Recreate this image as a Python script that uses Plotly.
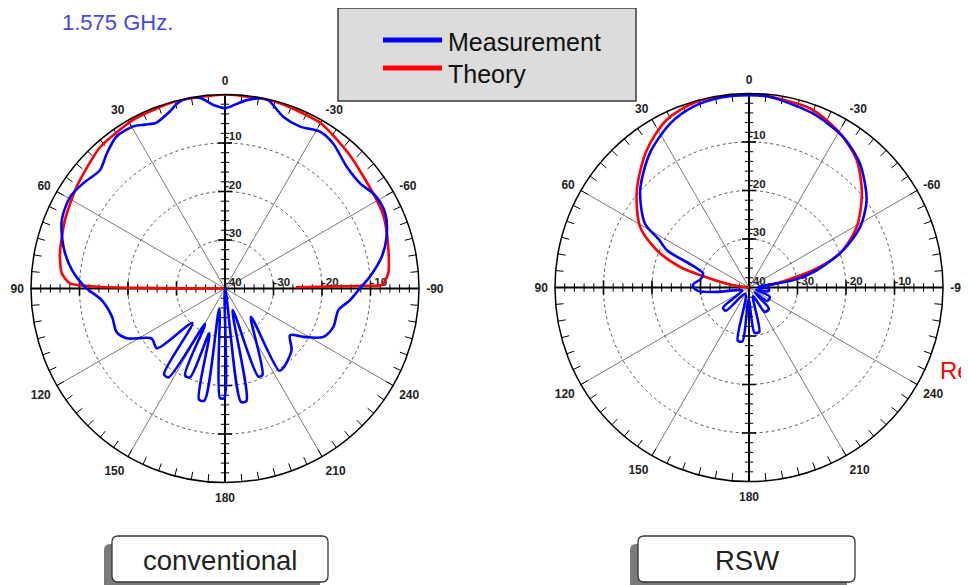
import plotly.graph_objects as go
import numpy as np

W, H = 969, 585
OFF = 8  # page margin of the browser body

# ---------------- data (dB vs angle, 0 deg at top, CCW positive) ----------------
conv_theory_theta = [-89.0, -88.9, -88.7, -84.7, -78.0, -70.1, -64.6, -57.3, -43.5, -30.0, -15.0,
                     0.0, 15.0, 28.0, 41.4, 55.5, 66.8, 78.0, 84.7, 88.1, 89.2, 89.6, 89.8, 89.9, 90.0]
conv_theory_r = [-25.4, -10.8, -7.6, -6.2, -5.5, -4.6, -4.0, -3.7, -2.4, -0.6, -0.1,
                 0.0, -0.1, -0.4, -1.1, -2.9, -4.1, -5.2, -6.2, -8.0, -14.0, -22.0, -30.0, -35.0, -40.0]

conv_meas_theta = [0, 3.6, 7.4, 11.3, 14.5, 17.4, 22.5, 26, 29.5, 35.5, 41.2, 46.5, 53.4, 59.4, 67.2,
                   75.5, 83.1, 89.3, 95.5, 104.2, 111.8, 116.9, 124.3, 131.3,
                   136.5, 144.6, 147.6, 150.7, 155.3, 158.5, 160.8, 166.8, 169.6, 164.2, 177.4, 179.6, 180,
                   188.0, 190.8, 199.5, 200.7, 203.5, 222.5, 213.4, 216.4,
                   227.2, 234.3, 238.3, 243.8, 250.5, 259.2, 264.7, 270, 274.7, 281.5, 287.8, 295.2, 301.9,
                   307.9, 315, 323.3, 328.8, 335.1, 341.3, 346.6, 348.6, 353.4, 358.4, 360]
conv_meas_r = [-2.8, -2.1, -0.4, 0.0, -0.6, -1.8, -3.0, -2.4, -1.6, -1.5, -3.0, -4.5, -3.6, -2.9, -3.5,
               -5.6, -8.2, -11.1, -14.5, -16.0, -15.9, -17.3, -21.7, -21.3,
               -30.2, -18.3, -18.3, -31.6, -20.3, -20.3, -30.2, -16.5, -16.5, -35.7, -17.4, -17.4, -40.0,
               -16.4, -16.4, -35.3, -20.6, -20.6, -32.1, -19.7, -19.7,
               -21.3, -23.5, -21.0, -17.4, -16.3, -16.2, -14.1, -12.2, -10.0, -7.0, -5.0, -3.5, -3.6,
               -4.7, -4.5, -2.7, -2.2, -3.2, -2.6, -0.3, 0.0, -0.9, -2.5, -2.8]

rsw_theory_theta = [-84.0, -79.0, -74.9, -69.5, -60.6, -50.2, -40.2, -30.6, -19.9, -6.3, 0.7, 15.6,
                    26.2, 36.7, 49.1, 60.9, 68.0, 73.4, 76.0, 81.7, 88.0]
rsw_theory_r = [-36.0, -32.1, -26.3, -20.0, -14.5, -9.7, -5.6, -3.1, -1.1, -0.4, 0.0, -0.2,
                -1.5, -4.7, -9.4, -14.3, -19.5, -25.2, -30.0, -36.5, -40.0]

rsw_meas_theta = [0, 8, 17.1, 25.7, 36.5, 48.2, 58.4, 62, 65.6, 73, 80.7, 86, 89.4, 93.8, 97.8, 102,
                  115, 128, 135, 150, 168, 173, 178, 187, 193, 205, 213, 223, 229,
                  234, 246, 253, 259, 266, 272,
                  279.4, 284.3, 291.6, 298.6, 306.6, 318.2, 328, 339.7, 353.7, 360]
rsw_meas_r = [-0.35, -0.4, -1.0, -2.5, -5.6, -9.9, -14.8, -19.0, -21.4, -30.1, -29.8, -28.6, -28.5, -29.5,
              -33.3, -37.4, -38.5, -33.2, -33.2, -38.5, -28.8, -28.8, -37.5, -30.6, -30.6, -38.0,
              -34.0, -34.0, -38.5, -35.3, -35.3, -38.5, -35.9, -35.9, -38.0,
              -30.7, -25.6, -19.1, -13.9, -9.8, -5.7, -3.4, -1.8, -0.5, -0.35]

angle_labels = {0: '0', 30: '30', 60: '60', 90: '90', 120: '120', 150: '150', 180: '180',
                210: '210', 240: '240', 270: '-90', 300: '-60', 330: '-30'}
ring_vals = [-30, -20, -10]
vert_label_r = [-10, -20, -30, -40]
horiz_label_r = [-30, -20, -10]

BLUE = '#0000ff'
RED = '#ff0000'
FONT = 'Liberation Sans, Arial, sans-serif'


def px(x):
    return (x - OFF) / W


def py(y):
    return 1 - (y - OFF) / H


fig = go.Figure()

edge_ticks = [a for a in range(0, 360, 5)]


def add_polar_decor(sub):
    # spokes
    for a in range(0, 180, 30):
        fig.add_trace(go.Scatterpolar(r=[0, -40, 0], theta=[a, a, a + 180], mode='lines',
                                      line=dict(color='#555555', width=0.8), subplot=sub,
                                      hoverinfo='skip', showlegend=False))
    # main cross axes
    for a in (0, 90):
        fig.add_trace(go.Scatterpolar(r=[0, -40, 0], theta=[a, a, a + 180], mode='lines',
                                      line=dict(color='black', width=2), subplot=sub,
                                      hoverinfo='skip', showlegend=False))
    minor = [v for v in np.arange(-38, 0, 2) if v % 10 != 0]
    major = [-30, -20, -10]
    for a, sym in ((0, 'line-ew'), (180, 'line-ew'), (90, 'line-ns'), (270, 'line-ns')):
        fig.add_trace(go.Scatterpolar(r=minor, theta=[a] * len(minor), mode='markers',
                                      marker=dict(symbol=sym, size=6, line=dict(color='black', width=1)),
                                      subplot=sub, hoverinfo='skip', showlegend=False))
        fig.add_trace(go.Scatterpolar(r=major, theta=[a] * len(major), mode='markers',
                                      marker=dict(symbol=sym, size=10, line=dict(color='black', width=1.6)),
                                      subplot=sub, hoverinfo='skip', showlegend=False))
    # small inside ticks on the outer circle
    fig.add_trace(go.Scatterpolar(r=[-0.75] * len(edge_ticks), theta=edge_ticks, mode='markers',
                                  marker=dict(symbol='line-ns', size=6, angle=[-a for a in edge_ticks],
                                              line=dict(color='black', width=1)),
                                  subplot=sub, hoverinfo='skip', showlegend=False))
    # radial labels
    fig.add_trace(go.Scatterpolar(r=vert_label_r, theta=[0] * 4, mode='text',
                                  text=['<b>%d</b>' % v for v in vert_label_r],
                                  textposition='top right',
                                  textfont=dict(family=FONT, size=11.5, color='#222'),
                                  subplot=sub, hoverinfo='skip', showlegend=False))
    fig.add_trace(go.Scatterpolar(r=horiz_label_r, theta=[270] * 3, mode='text',
                                  text=['<b>%d</b>' % v for v in horiz_label_r],
                                  textposition='top right',
                                  textfont=dict(family=FONT, size=11.5, color='#222'),
                                  subplot=sub, hoverinfo='skip', showlegend=False))


add_polar_decor('polar')
add_polar_decor('polar2')

fig.add_trace(go.Scatterpolar(r=conv_theory_r, theta=conv_theory_theta, mode='lines', name='Theory',
                              line=dict(color=RED, width=2.6, shape='spline', smoothing=0.6),
                              subplot='polar', showlegend=False))
fig.add_trace(go.Scatterpolar(r=conv_meas_r, theta=conv_meas_theta, mode='lines', name='Measurement',
                              line=dict(color=BLUE, width=2.6, shape='spline', smoothing=0.8),
                              subplot='polar', showlegend=False))
fig.add_trace(go.Scatterpolar(r=rsw_theory_r, theta=rsw_theory_theta, mode='lines', name='Theory',
                              line=dict(color=RED, width=2.6, shape='spline', smoothing=0.8),
                              subplot='polar2', showlegend=False))
fig.add_trace(go.Scatterpolar(r=rsw_meas_r, theta=rsw_meas_theta, mode='lines', name='Measurement',
                              line=dict(color=BLUE, width=2.6, shape='spline', smoothing=0.8),
                              subplot='polar2', showlegend=False))

tickvals = list(range(0, 360, 30))
ticktext = [angle_labels[v] for v in tickvals]


def polar_layout(cx, cy, R):
    return dict(
        domain=dict(x=[px(cx - R), px(cx + R)], y=[py(cy + R), py(cy - R)]),
        bgcolor='white',
        radialaxis=dict(range=[-40, 0], tickmode='array', tickvals=ring_vals, showticklabels=False,
                        ticks='', showline=False, gridcolor='#555555', griddash='dot', gridwidth=1),
        angularaxis=dict(rotation=90, direction='counterclockwise', tickmode='array',
                         tickvals=tickvals, ticktext=ticktext, ticks='outside', ticklen=4,
                         tickwidth=1, tickcolor='rgba(0,0,0,0)', showgrid=False, showline=True,
                         linecolor='black', linewidth=1.5,
                         tickfont=dict(family=FONT, size=12, color='#222', weight='bold')),
    )


shapes = []
annotations = []


def rrect(x0, y0, x1, y1, rad, fill, line_color, lw):
    rx, ry = rad / W, rad / H
    X0, X1, Y0, Y1 = px(x0), px(x1), py(y0), py(y1)
    path = (f"M {X0 + rx},{Y0} L {X1 - rx},{Y0} Q {X1},{Y0} {X1},{Y0 - ry} "
            f"L {X1},{Y1 + ry} Q {X1},{Y1} {X1 - rx},{Y1} L {X0 + rx},{Y1} "
            f"Q {X0},{Y1} {X0},{Y1 + ry} L {X0},{Y0 - ry} Q {X0},{Y0} {X0 + rx},{Y0} Z")
    return dict(type='path', xref='paper', yref='paper', path=path, fillcolor=fill,
                line=dict(color=line_color, width=lw), layer='above')


# legend box
shapes.append(dict(type='rect', xref='paper', yref='paper', x0=px(338), x1=px(636), y0=py(101), y1=py(8),
                   fillcolor='#dcdcdc', line=dict(color='#3a3a3a', width=1.5), layer='above'))
shapes.append(dict(type='line', xref='paper', yref='paper', x0=px(383), x1=px(442), y0=py(40), y1=py(40),
                   line=dict(color=BLUE, width=5), layer='above'))
shapes.append(dict(type='line', xref='paper', yref='paper', x0=px(383), x1=px(442), y0=py(68), y1=py(68),
                   line=dict(color=RED, width=5), layer='above'))
annotations.append(dict(text='Measurement', x=px(446), y=py(42), xref='paper', yref='paper',
                        xanchor='left', yanchor='middle', showarrow=False,
                        font=dict(family=FONT, size=25, color='#111')))
annotations.append(dict(text='Theory', x=px(446), y=py(74), xref='paper', yref='paper',
                        xanchor='left', yanchor='middle', showarrow=False,
                        font=dict(family=FONT, size=25, color='#111')))

# label boxes with shadow
for (x0, x1, cxl, label) in ((112, 328, 220, 'conventional'), (638, 855, 747, 'RSW')):
    shapes.append(rrect(x0 - 8, 544, x1 - 8, 592, 6, '#7a7a7a', '#7a7a7a', 0))
    shapes.append(rrect(x0, 536, x1, 582, 6, 'white', '#333333', 1.3))
    annotations.append(dict(text=label, x=px(cxl), y=py(560), xref='paper', yref='paper',
                            xanchor='center', yanchor='middle', showarrow=False,
                            font=dict(family=FONT, size=27.5, color='#222')))

annotations.append(dict(text='1.575 GHz.', x=px(60), y=1, xref='paper', yref='paper',
                        xanchor='left', yanchor='top', showarrow=False,
                        font=dict(family=FONT, size=22, color='#4646e6')))
annotations.append(dict(text='Re', x=px(938), y=py(370), xref='paper', yref='paper',
                        xanchor='left', yanchor='middle', showarrow=False,
                        font=dict(family=FONT, size=24, color=RED)))

fig.update_layout(
    width=W, height=H, margin=dict(l=0, r=0, t=0, b=0), autosize=False,
    paper_bgcolor='white', plot_bgcolor='white', showlegend=False,
    polar=polar_layout(225, 288.5, 194),
    polar2=polar_layout(749, 287.5, 194),
    shapes=shapes, annotations=annotations,
)

fig.write_html('out.html')
